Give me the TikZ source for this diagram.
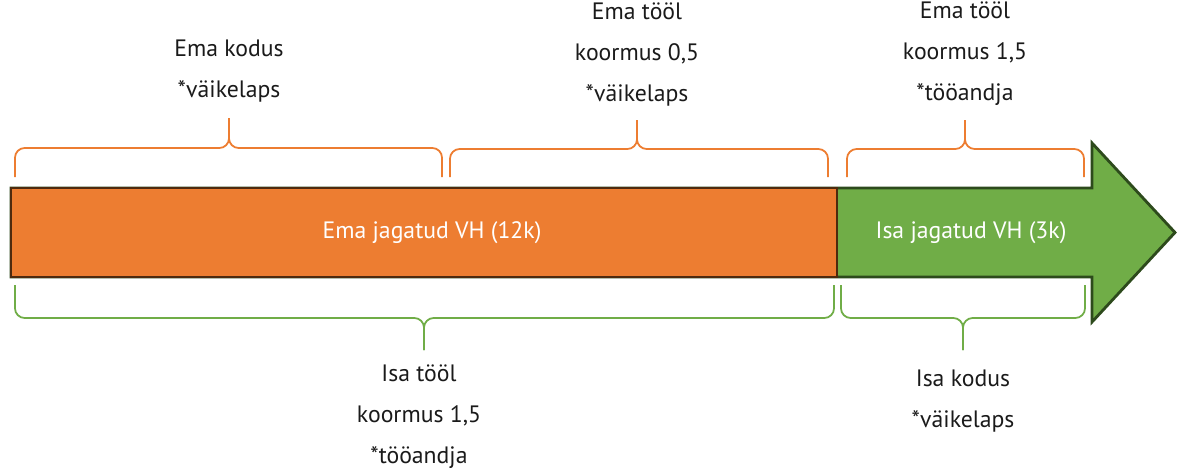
\documentclass[tikz,border=0pt]{standalone}
\usepackage{fontspec}
\setmainfont{PT Sans}
\definecolor{oran}{HTML}{ED7D31}
\definecolor{gree}{HTML}{70AD47}
\definecolor{oranD}{HTML}{4E2A0E}
\definecolor{greeD}{HTML}{2D4A1C}
\definecolor{txt}{HTML}{1A1A1A}
\tikzset{
  lbl/.style={anchor=base, align=center, inner sep=0pt, text=txt,
    font=\fontsize{13.5}{23.3}\selectfont},
  inlbl/.style={anchor=base, inner sep=0pt, text=white,
    font=\fontsize{13.5}{21.5}\selectfont},
  obrace/.style={draw=oran, line width=1pt, rounded corners=5.5},
  gbrace/.style={draw=gree, line width=1pt, rounded corners=5.5},
}
\begin{document}
\begin{tikzpicture}[x=0.02cm, y=-0.02cm]
\useasboundingbox (0,0) rectangle (1177,474);
% arrow
\draw[fill=gree, draw=greeD, line width=1.6pt]
  (11,188) -- (1092,188) -- (1092,143) -- (1175,232.5) -- (1092,322) -- (1092,277) -- (11,277) -- cycle;
\draw[fill=oran, draw=oranD, line width=1.6pt] (11,188) rectangle (837,277);
\node[inlbl] (ema) at (432,238) {Ema jagatud VH (12k)};
\node[inlbl] (isa) at (971,238) {Isa jagatud VH (3k)};
% top braces
\draw[obrace] (15,177) |- (229,148) -- (229,118);
\draw[obrace] (229,118) -- (229,148) -| (442,177);
\draw[obrace] (450,177) |- (637,149) -- (637,120);
\draw[obrace] (637,120) -- (637,149) -| (828,177);
\draw[obrace] (847,177) |- (965,149) -- (965,120);
\draw[obrace] (965,120) -- (965,149) -| (1084,177);
% bottom braces
\draw[gbrace] (15,285) |- (424,318) -- (424,350);
\draw[gbrace] (424,350) -- (424,318) -| (834,285);
\draw[gbrace] (841,285) |- (963,318) -- (963,350);
\draw[gbrace] (963,350) -- (963,318) -| (1085,285);
% labels (anchored at the baseline of the last line)
\node[lbl] (t1) at (229,97) {Ema kodus\\*väikelaps};
\node[lbl] (t2) at (637,101) {Ema tööl\\koormus 0,5\\*väikelaps};
\node[lbl] (t3) at (965,100) {Ema tööl\\koormus 1,5\\*tööandja};
\node[lbl] (b1) at (419,463) {Isa tööl\\koormus 1,5\\*tööandja};
\node[lbl] (b2) at (963,427) {Isa kodus\\*väikelaps};
\end{tikzpicture}
\end{document}
